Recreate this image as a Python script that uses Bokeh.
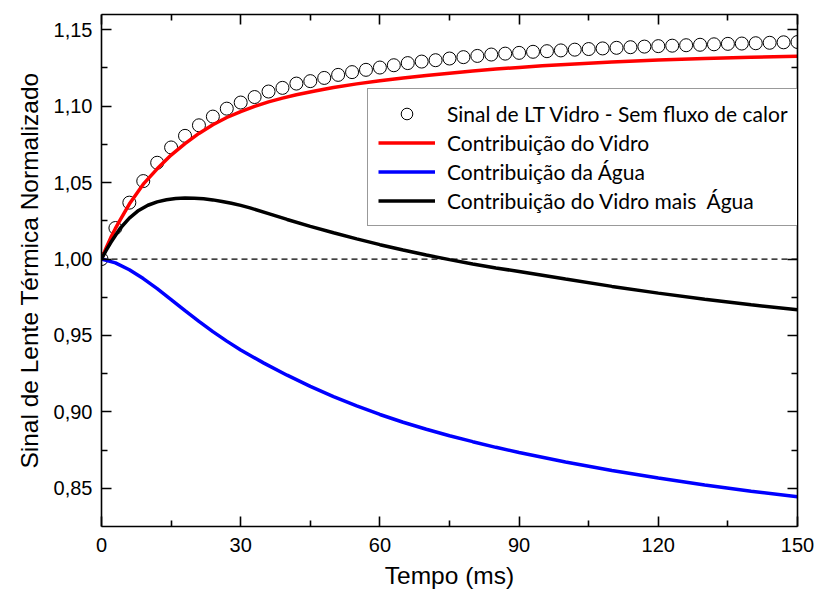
from bokeh.plotting import figure
from bokeh.models import (Range1d, LinearAxis, FixedTicker, CustomJSTickFormatter,
                          Span, Legend, LegendItem)
from bokeh.embed import file_html
from bokeh.resources import INLINE

# ---- data ----
sinal_x = [0, 3, 6, 9, 12, 15, 18, 21, 24, 27, 30, 33, 36, 39, 42, 45, 48, 51, 54, 57,
           60, 63, 66, 69, 72, 75, 78, 81, 84, 87, 90, 93, 96, 99, 102, 105, 108, 111,
           114, 117, 120, 123, 126, 129, 132, 135, 138, 141, 144, 147, 150]
sinal_y = [1.000, 1.0203, 1.0369, 1.051, 1.063, 1.073, 1.0806, 1.0875, 1.0932, 1.0984,
           1.1024, 1.106, 1.1096, 1.112, 1.1148, 1.1164, 1.1185, 1.1205, 1.1223, 1.1238,
           1.1253, 1.1268, 1.1282, 1.1292, 1.1301, 1.1312, 1.1321, 1.1329, 1.1338, 1.1344,
           1.1349, 1.1356, 1.136, 1.1365, 1.137, 1.1374, 1.1378, 1.1382, 1.1386, 1.139,
           1.1393, 1.1396, 1.1399, 1.1402, 1.1405, 1.1408, 1.141, 1.1412, 1.1415, 1.1418,
           1.142]

vidro_x = [0, 1, 2, 3, 4, 6, 9, 12, 15, 18, 21, 24, 27, 30, 33, 36, 39, 42, 46, 50, 55,
           60, 65, 70, 75, 80, 85, 90, 95, 100, 110, 120, 130, 140, 150]
vidro_y = [1.000, 1.0072, 1.0140, 1.0200, 1.0255, 1.0360, 1.0490, 1.0590, 1.0680,
           1.0755, 1.0822, 1.0879, 1.0926, 1.0965, 1.0999, 1.1028, 1.1053, 1.1075,
           1.1100, 1.1122, 1.1146, 1.1167, 1.1185, 1.1201, 1.1216, 1.1230, 1.1243,
           1.1254, 1.1264, 1.1273, 1.1289, 1.1302, 1.1312, 1.1320, 1.1327]

agua_x = [0, 3, 6, 9, 12, 15, 18, 21, 24, 27, 30, 35, 40, 45, 50, 55, 60, 65, 70, 75,
          80, 85, 90, 100, 110, 120, 130, 140, 150]
agua_y = [1.000, 0.9975, 0.9930, 0.9872, 0.9806, 0.9735, 0.9662, 0.9592, 0.9525,
          0.9463, 0.9405, 0.9319, 0.9240, 0.9167, 0.9100, 0.9039, 0.8983, 0.8932,
          0.8886, 0.8844, 0.8805, 0.8768, 0.8734, 0.8672, 0.8617, 0.8567, 0.8522,
          0.8481, 0.8444]

soma_x = [0, 1, 2, 4, 6, 8, 10, 12, 14, 16, 18, 20, 22, 24, 26, 28, 30, 32, 36, 40, 45,
          50, 55, 60, 65, 70, 75, 80, 85, 90, 100, 110, 120, 130, 140, 150]
soma_y = [1.000, 1.0056, 1.0108, 1.0200, 1.0268, 1.0318, 1.0352, 1.0374, 1.0388,
          1.0396, 1.0399, 1.0398, 1.0394, 1.0387, 1.0377, 1.0365, 1.0351, 1.0335,
          1.0297, 1.0259, 1.0214, 1.0172, 1.0132, 1.0094, 1.0059, 1.0026, 0.9996,
          0.9968, 0.9942, 0.9918, 0.9869, 0.9821, 0.9777, 0.9737, 0.9701, 0.9668]

x_ticks = [0, 30, 60, 90, 120, 150]
x_minor = [15, 45, 75, 105, 135]
y_ticks = [0.85, 0.90, 0.95, 1.00, 1.05, 1.10, 1.15]
y_minor = [0.875, 0.925, 0.975, 1.025, 1.075, 1.125]
ref_level = 1.0

labels = ["Sinal de LT Vidro - Sem fluxo de calor", "Contribuição do Vidro",
          "Contribuição da Água", "Contribuição do Vidro mais  Água"]
x_title = "Tempo (ms)"
y_title = "Sinal de Lente Térmica Normalizado"

# ---- figure ----
p = figure(width=816, height=601, output_backend="svg", toolbar_location=None,
           x_range=Range1d(0, 150), y_range=Range1d(0.825, 1.16),
           x_axis_location=None, y_axis_location=None,
           min_border_left=101, min_border_right=19, min_border_top=14,
           min_border_bottom=75)
p.xgrid.visible = False
p.ygrid.visible = False
p.outline_line_color = None
p.background_fill_color = "white"
p.border_fill_color = "white"

fmt_y = CustomJSTickFormatter(code="return tick.toFixed(2).replace('.', ',');")
fmt_x = CustomJSTickFormatter(code="return tick.toFixed(0);")
fmt_none = CustomJSTickFormatter(code="return '';")

bottom_axis = LinearAxis(formatter=fmt_x)
left_axis = LinearAxis(formatter=fmt_y)
top_axis = LinearAxis(formatter=fmt_none)
right_axis = LinearAxis(formatter=fmt_none)
p.add_layout(bottom_axis, "below")
p.add_layout(left_axis, "left")
p.add_layout(top_axis, "above")
p.add_layout(right_axis, "right")

for ax, ticks, minor in [(bottom_axis, x_ticks, x_minor), (top_axis, x_ticks, x_minor),
                         (left_axis, y_ticks, y_minor), (right_axis, y_ticks, y_minor)]:
    ax.ticker = FixedTicker(ticks=ticks, minor_ticks=minor)
    ax.major_tick_in = 10
    ax.major_tick_out = 0
    ax.minor_tick_in = 6
    ax.minor_tick_out = 0
    ax.axis_line_width = 1.6
    ax.major_tick_line_width = 1.6
    ax.minor_tick_line_width = 1.6
    ax.axis_line_color = "black"
    ax.major_tick_line_color = "black"
    ax.minor_tick_line_color = "black"
    ax.major_label_text_font = "Liberation Sans"
    ax.major_label_text_font_size = "20px"
    ax.major_label_text_color = "black"

top_axis.major_label_standoff = 0
right_axis.major_label_standoff = 0
bottom_axis.major_label_standoff = 11
left_axis.major_label_standoff = 9

bottom_axis.axis_label = x_title
left_axis.axis_label = y_title
for ax in (bottom_axis, left_axis):
    ax.axis_label_text_font = "Liberation Sans"
    ax.axis_label_text_font_size = "24.5px"
    ax.axis_label_text_font_style = "normal"
    ax.axis_label_text_color = "black"
bottom_axis.axis_label_standoff = 7
left_axis.axis_label_standoff = 8

p.add_layout(Span(location=ref_level, dimension="width", line_color="black",
                  line_width=1.3, line_dash="6 4"))

r_sinal = p.scatter(sinal_x, sinal_y, marker="circle", size=13, fill_color="white",
                    line_color="black", line_width=1)
r_vidro = p.line(vidro_x, vidro_y, line_color="#ff0000", line_width=3.5)
r_agua = p.line(agua_x, agua_y, line_color="#0000ff", line_width=3.5)
r_soma = p.line(soma_x, soma_y, line_color="black", line_width=3.5)

legend = Legend(items=[LegendItem(label=labels[0], renderers=[r_sinal]),
                       LegendItem(label=labels[1], renderers=[r_vidro]),
                       LegendItem(label=labels[2], renderers=[r_agua]),
                       LegendItem(label=labels[3], renderers=[r_soma])],
                location=(266, 300))
legend.label_text_font = "Lato"
legend.label_text_font_size = "21px"
legend.label_text_color = "black"
legend.glyph_width = 57
legend.glyph_height = 29
legend.label_height = 29
legend.spacing = 0
legend.padding = 10
legend.margin = 0
legend.label_standoff = 12
legend.border_line_color = "#333333"
legend.border_line_width = 1
legend.background_fill_color = "white"
legend.background_fill_alpha = 1
p.add_layout(legend, "center")

open("out.html", "w").write(file_html(p, INLINE))
